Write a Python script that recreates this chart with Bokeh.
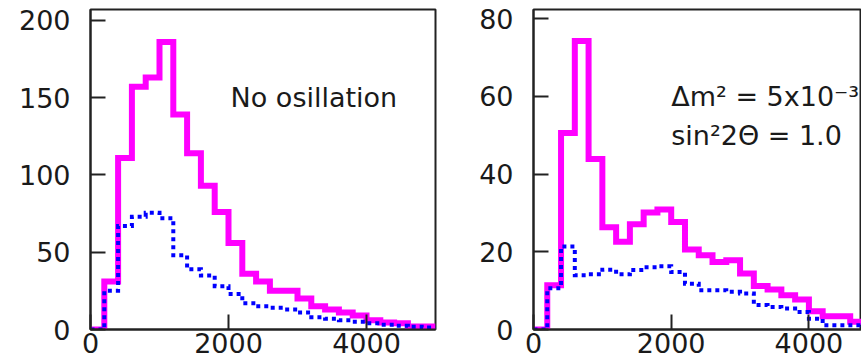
from bokeh.plotting import figure
from bokeh.layouts import row
from bokeh.embed import file_html
from bokeh.resources import INLINE
from bokeh.core.properties import value

# ---- data ----
bin_edges = list(range(0, 5001, 200))  # 25 bins of width 200

left_nominal = [0, 31, 111, 157, 163, 186, 139, 114, 93, 76, 56, 36, 31, 25, 25,
                20, 15, 13, 11, 9, 6, 4.5, 4, 2, 2]
left_dotted = [0, 25, 67, 73, 75.5, 72, 48, 39, 35, 28, 23, 17, 15, 14, 13,
               11, 8, 7, 6, 5, 4, 3, 2.4, 1.7, 1.3]

right_nominal = [0, 11.4, 50.6, 74.3, 43.9, 26.3, 22.6, 27.1, 30.1, 30.9, 27.7,
                 20.6, 19.1, 17.4, 17.8, 14.4, 11.2, 10.3, 8.8, 7.7, 4.7, 3.4,
                 3.4, 2.0, 1.5]
right_dotted = [0, 10.6, 21.4, 14, 14.2, 15.4, 14.2, 15.3, 16, 16.3, 14.8, 11.8,
                10.1, 10.1, 9.7, 9.3, 6.3, 5.8, 5.4, 4.5, 2.8, 1.1, 1.1, 1.1, 1.0]

left_yticks = [0, 50, 100, 150, 200]
right_yticks = [0, 20, 40, 60, 80]
xticks = [0, 2000, 4000]

left_label = "No osillation"
right_label_1 = "Δm² = 5x10⁻³"
right_label_2 = "sin²2Θ = 1.0"

FONT = "DejaVu Sans"
TXT = "#1a1a1a"
MAGENTA = "#ff00ff"
BLUE = "#0000ff"


def make_fig(width, xmax, ymax, yticks, border_right):
    p = figure(width=width, height=362, x_range=(0, xmax), y_range=(0, ymax),
               output_backend="svg", toolbar_location=None,
               min_border_left=90, min_border_right=border_right,
               min_border_top=9, min_border_bottom=33)
    p.grid.visible = False
    p.outline_line_color = "#222222"
    p.outline_line_width = 2
    p.outline_line_alpha = 1
    p.background_fill_color = "white"
    p.border_fill_color = "white"
    for ax in (p.xaxis[0], p.yaxis[0]):
        ax.axis_line_width = 2
        ax.axis_line_color = "#222222"
        ax.major_tick_line_width = 2
        ax.major_tick_line_color = "#222222"
        ax.major_tick_in = 15
        ax.major_tick_out = 0
        ax.minor_tick_line_color = None
        ax.major_label_text_font = FONT
        ax.major_label_text_font_size = "27px"
        ax.major_label_text_color = TXT
    p.xaxis.ticker = xticks
    p.yaxis.ticker = yticks
    p.xaxis.major_label_standoff = 3
    p.yaxis.major_label_standoff = 20
    return p


def draw(p, nominal, dotted):
    p.step(x=bin_edges, y=nominal + [nominal[-1]], mode="after",
           line_color=MAGENTA, line_width=6, line_join="miter")
    p.step(x=bin_edges, y=dotted + [dotted[-1]], mode="after",
           line_color=BLUE, line_width=4, line_dash="4 4", line_join="miter")


p1 = make_fig(443, 5000, 207, left_yticks, 8)
draw(p1, left_nominal, left_dotted)
p1.text(x=[2030], y=[150], text=[left_label], text_font=value(FONT),
        text_font_size="27px", text_color=TXT, text_baseline="alphabetic")

p2 = make_fig(418, 4764, 82.4, right_yticks, 0)
draw(p2, right_nominal, right_dotted)
p2.text(x=[2000, 2000], y=[60, 50], text=[right_label_1, right_label_2],
        text_font=value(FONT), text_font_size="27px", text_color=TXT,
        text_baseline="alphabetic")

layout = row(p1, p2)
open("out.html", "w").write(file_html(layout, INLINE))
